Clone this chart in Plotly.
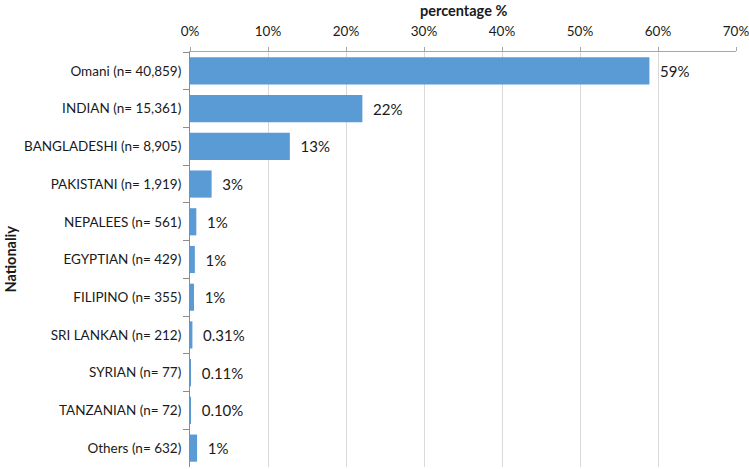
import plotly.graph_objects as go

categories = ["Omani (n= 40,859)", "INDIAN (n= 15,361)", "BANGLADESHI (n= 8,905)",
              "PAKISTANI (n= 1,919)", "NEPALEES (n= 561)", "EGYPTIAN (n= 429)",
              "FILIPINO (n= 355)", "SRI LANKAN (n= 212)", "SYRIAN (n= 77)",
              "TANZANIAN (n= 72)", "Others (n= 632)"]
values = [58.9, 22.1, 12.8, 2.77, 0.81, 0.62, 0.51, 0.31, 0.11, 0.10, 0.91]
labels = ["59%", "22%", "13%", "3%", "1%", "1%", "1%", "0.31%", "0.11%", "0.10%", "1%"]
x_ticks = [0, 10, 20, 30, 40, 50, 60, 70]
x_ticktext = ["0%", "10%", "20%", "30%", "40%", "50%", "60%", "70%"]

FONT = "Lato"

fig = go.Figure(go.Bar(
    x=values, y=categories, orientation="h",
    marker=dict(color="#5B9BD5", line=dict(width=0)),
    text=["  " + t for t in labels], textposition="outside",
    textfont=dict(family=FONT, size=15, color="#1a1a1a"),
    cliponaxis=False, width=0.72,
))

fig.update_layout(
    width=749, height=469,
    margin=dict(l=190, r=13, t=52, b=2),
    plot_bgcolor="white", paper_bgcolor="white",
    showlegend=False,
    font=dict(family=FONT, size=13, color="#1a1a1a"),
    xaxis=dict(
        side="top", range=[0, 70], tickvals=x_ticks, ticktext=x_ticktext,
        showgrid=True, gridcolor="#D9D9D9", gridwidth=1,
        showline=True, linecolor="#A6A6A6", linewidth=1,
        ticks="outside", ticklen=4, tickcolor="#A6A6A6",
        tickfont=dict(family=FONT, size=13.5), ticklabelstandoff=6,
        ticklabeloverflow="allow",
        zeroline=False, automargin=False,
    ),
    yaxis=dict(
        autorange="reversed", categoryorder="array", categoryarray=categories,
        showline=True, linecolor="#8C8C8C", linewidth=1,
        ticks="outside", ticklen=6, tickcolor="#8C8C8C", tickson="boundaries",
        tickfont=dict(family=FONT, size=13.5), ticklabelstandoff=5,
        showgrid=False, automargin=False,
    ),
    annotations=[
        dict(text="<b>percentage %</b>", xref="paper", yref="paper",
             x=0.5, y=1, yshift=42, xanchor="center", yanchor="middle",
             showarrow=False, font=dict(family=FONT, size=14.5, color="#1a1a1a")),
        dict(text="<b>Nationaliy</b>", xref="paper", yref="paper",
             x=0, xshift=-180, y=0.5, xanchor="center", yanchor="middle",
             textangle=-90, showarrow=False,
             font=dict(family=FONT, size=14.5, color="#1a1a1a")),
    ],
)

fig.write_html("out.html", config={"displayModeBar": False},
               post_script="document.body.style.margin='0';document.body.style.overflow='hidden';")
